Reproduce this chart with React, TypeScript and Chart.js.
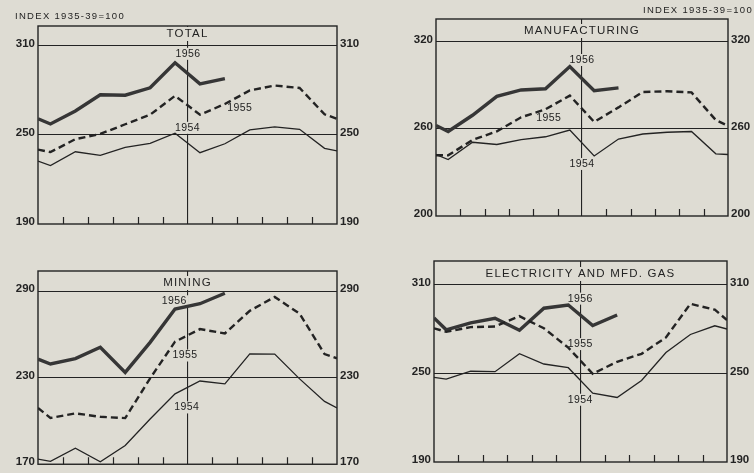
import React, { useEffect, useRef } from 'react';
import { Chart, registerables } from 'chart.js';

Chart.register(...registerables);

// Month slots: previous December (clipped at left edge), Jan..Dec, next January (clipped at right edge)
const months = ['Dec', 'Jan', 'Feb', 'Mar', 'Apr', 'May', 'Jun', 'Jul', 'Aug', 'Sep', 'Oct', 'Nov', 'Dec', 'Jan'];
const monthBoundaries = [1, 2, 3, 4, 5, 6, 7, 8, 9, 10, 11];

// TOTAL
const totalTicks = [190, 250, 310];
const total1954 = [232.2, 229.2, 238.5, 236.1, 241.4, 244.1, 251.0, 237.9, 243.9, 253.2, 255.2, 253.6, 240.8, 239.1];
const total1955 = [240.0, 238.3, 247.0, 250.5, 257.0, 263.4, 276.1, 263.4, 270.6, 279.7, 283.0, 281.4, 263.7, 260.7];
const total1956 = [260.7, 257.2, 265.9, 276.8, 276.5, 281.5, 298.3, 284.1, 287.6];

// MANUFACTURING
const mfgTicks = [200, 260, 320];
const mfg1954 = [242.3, 238.8, 250.7, 249.2, 252.6, 254.5, 259.1, 241.3, 252.9, 256.4, 257.6, 258.1, 242.8, 242.3];
const mfg1955 = [241.8, 241.7, 252.3, 258.2, 267.9, 273.4, 282.8, 264.7, 274.7, 285.3, 285.8, 285.0, 266.0, 262.0];
const mfg1956 = [262.3, 258.1, 269.3, 282.3, 286.7, 287.5, 302.8, 286.2, 288.1];

// MINING
const miningTicks = [170, 230, 290];
const mining1954 = [173.5, 172.0, 181.1, 171.7, 183.0, 201.4, 218.8, 227.7, 225.7, 246.5, 246.4, 229.2, 213.6, 209.0];
const mining1955 = [209.0, 202.1, 205.3, 202.9, 202.0, 229.6, 255.0, 263.7, 260.7, 276.4, 286.0, 274.4, 246.4, 243.4];
const mining1956 = [242.9, 239.5, 243.3, 251.1, 233.7, 254.5, 277.6, 281.3, 288.6];

// ELECTRICITY AND MFD. GAS
const elecTicks = [190, 250, 310];
const elec1954 = [247.3, 246.1, 251.5, 251.2, 263.4, 256.4, 253.9, 236.7, 233.7, 245.2, 264.2, 276.4, 282.3, 280.1];
const elec1955 = [280.6, 278.2, 281.4, 281.8, 288.8, 280.6, 267.5, 249.8, 257.9, 263.3, 274.4, 297.2, 293.2, 286.2];
const elec1956 = [287.6, 279.6, 284.3, 287.4, 279.3, 294.2, 296.4, 282.4, 289.6];

const BG = '#dedcd3';
const INK = '#232323';
const FONT = '"Liberation Sans", Arial, sans-serif';

type YearLabel = { text: string; x: number; y: number };
type Panel = {
  title: string;
  left: number; top: number; w: number; h: number;
  leftW: number; rightW: number; padTop: number; padBottom: number;
  yMin: number; yMax: number; ticks: number[];
  s1954: number[]; s1955: number[]; s1956: number[];
  labels: YearLabel[];
  titleOffset: number;
  header?: { text: string; x: number; y: number; align: CanvasTextAlign };
};

function toPoints(values: number[]) {
  const last = months.length - 1;
  return values.map((v, i) => ({ x: i === 0 ? 0 : i === last ? 12 : i - 0.5, y: v }));
}

const panels: Panel[] = [
  {
    title: 'TOTAL', left: 0, top: 0, w: 377, h: 236,
    leftW: 38, rightW: 40, padTop: 26, padBottom: 12,
    yMin: 190, yMax: 323, ticks: totalTicks,
    s1954: total1954, s1955: total1955, s1956: total1956,
    labels: [
      { text: '1956', x: 6.02, y: 304.3 },
      { text: '1955', x: 8.1, y: 267.8 },
      { text: '1954', x: 6.0, y: 254.6 },
    ],
    titleOffset: 8,
    header: { text: 'INDEX 1935-39=100', x: 15, y: 16, align: 'left' },
  },
  {
    title: 'MANUFACTURING', left: 377, top: 0, w: 377, h: 236,
    leftW: 59, rightW: 26, padTop: 19, padBottom: 20,
    yMin: 200, yMax: 335.5, ticks: mfgTicks,
    s1954: mfg1954, s1955: mfg1955, s1956: mfg1956,
    labels: [
      { text: '1956', x: 6.0, y: 307.3 },
      { text: '1955', x: 4.63, y: 267.2 },
      { text: '1954', x: 6.0, y: 235.8 },
    ],
    titleOffset: 12,
    header: { text: 'INDEX 1935-39=100', x: 376, y: 10, align: 'right' },
  },
  {
    title: 'MINING', left: 0, top: 236, w: 377, h: 237,
    leftW: 38, rightW: 40, padTop: 35, padBottom: 6,
    yMin: 170, yMax: 304, ticks: miningTicks,
    s1954: mining1954, s1955: mining1955, s1956: mining1956,
    labels: [
      { text: '1956', x: 5.47, y: 283.0 },
      { text: '1955', x: 5.9, y: 245.4 },
      { text: '1954', x: 5.97, y: 209.4 },
    ],
    titleOffset: 12,
  },
  {
    title: 'ELECTRICITY AND MFD. GAS', left: 377, top: 236, w: 377, h: 237,
    leftW: 57, rightW: 27, padTop: 25, padBottom: 11,
    yMin: 190, yMax: 326.2, ticks: elecTicks,
    s1954: elec1954, s1955: elec1955, s1956: elec1956,
    labels: [
      { text: '1956', x: 5.99, y: 300.7 },
      { text: '1955', x: 5.99, y: 269.9 },
      { text: '1954', x: 5.99, y: 232.2 },
    ],
    titleOffset: 13,
  },
];

function PanelChart({ panel }: { panel: Panel }) {
  const ref = useRef<HTMLCanvasElement>(null);

  useEffect(() => {
    const canvas = ref.current;
    if (!canvas) return;

    const decor = {
      id: 'decor',
      beforeDatasetsDraw(chart: any) {
        const { ctx, chartArea: a, scales } = chart;
        const xs = scales.x;
        const ys = scales.y;
        ctx.save();
        // frame
        ctx.strokeStyle = INK;
        ctx.lineWidth = 1.4;
        ctx.strokeRect(a.left, a.top, a.right - a.left, a.bottom - a.top);
        // month tick marks along the bottom, pointing inward
        ctx.lineWidth = 1.2;
        monthBoundaries.forEach((k) => {
          if (k === 6) return;
          const px = Math.round(xs.getPixelForValue(k)) + 0.5;
          ctx.beginPath();
          ctx.moveTo(px, a.bottom);
          ctx.lineTo(px, a.bottom - 7);
          ctx.stroke();
        });
        // title
        ctx.font = `11.5px ${FONT}`;
        (ctx as any).letterSpacing = '1.2px';
        ctx.textAlign = 'center';
        ctx.textBaseline = 'middle';
        const tx = (a.left + a.right) / 2;
        const ty = a.top + panel.titleOffset;
        const tw = ctx.measureText(panel.title).width;
        ctx.fillStyle = BG;
        ctx.fillRect(tx - tw / 2 - 3, ty - 7, tw + 6, 14);
        ctx.fillStyle = INK;
        ctx.fillText(panel.title, tx, ty);
        // year labels
        ctx.font = `10.5px ${FONT}`;
        (ctx as any).letterSpacing = '0.4px';
        panel.labels.forEach((l) => {
          const lx = xs.getPixelForValue(l.x);
          const ly = ys.getPixelForValue(l.y);
          const w = ctx.measureText(l.text).width;
          ctx.fillStyle = BG;
          ctx.fillRect(lx - w / 2 - 2, ly - 6, w + 4, 12);
          ctx.fillStyle = INK;
          ctx.fillText(l.text, lx, ly);
        });
        ctx.restore();
      },
      afterDraw(chart: any) {
        if (!panel.header) return;
        const ctx = chart.ctx;
        ctx.save();
        ctx.font = `9.5px ${FONT}`;
        (ctx as any).letterSpacing = '1.3px';
        ctx.textAlign = panel.header.align;
        ctx.textBaseline = 'middle';
        ctx.fillStyle = INK;
        ctx.fillText(panel.header.text, panel.header.x, panel.header.y);
        ctx.restore();
      },
    };

    const yAxisBase = (width: number, position: 'left' | 'right', grid: boolean) => ({
      type: 'linear' as const,
      position,
      min: panel.yMin,
      max: panel.yMax,
      afterBuildTicks: (scale: any) => {
        scale.ticks = panel.ticks.map((v) => ({ value: v }));
      },
      afterFit: (scale: any) => {
        scale.width = width;
      },
      border: { display: false },
      grid: {
        display: true,
        drawOnChartArea: grid,
        drawTicks: false,
        lineWidth: 1.1,
        color: (c: any) => (c.tick && c.tick.value === panel.yMin ? 'rgba(0,0,0,0)' : INK),
      },
      ticks: {
        padding: 3,
        labelOffset: -2,
        color: INK,
        font: { family: FONT, size: 11.5, weight: 'bold' as const, lineHeight: 1 },
        callback: (v: any) => String(v),
      },
    });

    const chart = new Chart(canvas, {
      type: 'line',
      data: {
        datasets: [
          {
            label: '1954',
            data: toPoints(panel.s1954),
            borderColor: INK,
            borderWidth: 1.3,
            pointRadius: 0,
            tension: 0,
            fill: false,
          },
          {
            label: '1955',
            data: toPoints(panel.s1955),
            borderColor: INK,
            borderWidth: 2.4,
            borderDash: [7, 4],
            pointRadius: 0,
            tension: 0,
            fill: false,
          },
          {
            label: '1956',
            data: toPoints(panel.s1956),
            borderColor: '#363636',
            borderWidth: 3.4,
            pointRadius: 0,
            tension: 0,
            fill: false,
          },
        ],
      },
      options: {
        responsive: false,
        animation: false,
        devicePixelRatio: 1,
        layout: { padding: { left: 0, right: 0, top: panel.padTop, bottom: panel.padBottom } },
        plugins: { legend: { display: false }, tooltip: { enabled: false }, title: { display: false } },
        scales: {
          x: {
            type: 'linear',
            min: 0,
            max: 12,
            afterBuildTicks: (scale: any) => {
              scale.ticks = [{ value: 6 }];
            },
            afterFit: (scale: any) => {
              scale.height = 0;
            },
            border: { display: false },
            grid: { display: true, drawTicks: false, color: INK, lineWidth: 1.1 },
            ticks: { display: false },
          },
          y: yAxisBase(panel.leftW, 'left', true),
          y2: yAxisBase(panel.rightW, 'right', false),
        },
      } as any,
      plugins: [decor],
    });

    return () => chart.destroy();
  }, [panel]);

  return (
    <canvas
      ref={ref}
      width={panel.w}
      height={panel.h}
      style={{ position: 'absolute', left: panel.left, top: panel.top, width: panel.w, height: panel.h }}
    />
  );
}

export default function App() {
  return (
    <div
      style={{
        position: 'fixed',
        left: 0,
        top: 0,
        width: 754,
        height: 473,
        background: BG,
        overflow: 'hidden',
      }}
    >
      {panels.map((p) => (
        <PanelChart key={p.title} panel={p} />
      ))}
    </div>
  );
}
